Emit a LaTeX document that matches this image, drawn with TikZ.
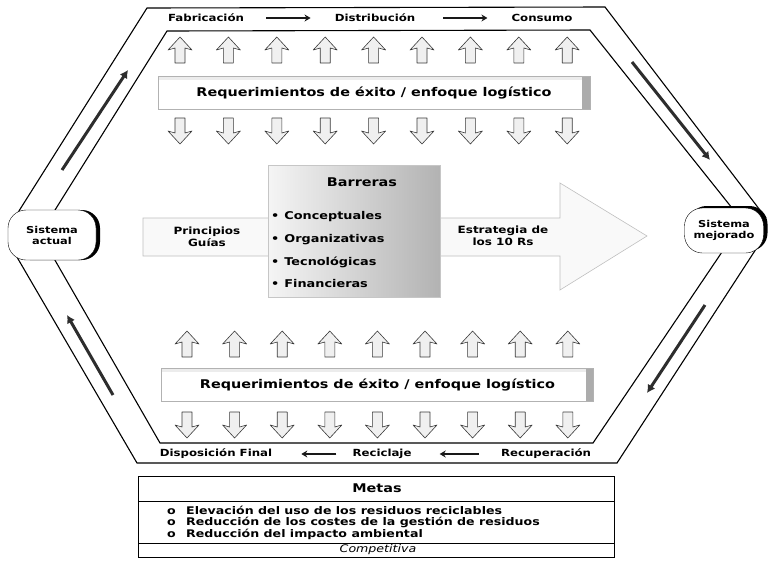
\documentclass[tikz,border=0pt]{standalone}
\usepackage{fontspec}
\setmainfont{DejaVu Sans}[FakeStretch=1.2]
\usetikzlibrary{arrows.meta,shadows}

\begin{document}
\begin{tikzpicture}[x=1pt,y=-1pt]
    \tikzstyle{lbl}=[font=\fontsize{9.8}{11}\selectfont\bfseries, inner sep=2pt]
    \tikzstyle{flowarr}=[line width=2pt, gray!20!black, -{Stealth[length=6pt,width=7pt]}, shorten <=20pt, shorten >=22pt]
    \tikzstyle{bandarr}=[line width=3pt, gray!35!black, -{Latex[length=8pt,width=9pt]}]
    \tikzstyle{hexline}=[line width=1.1pt, black]
    \tikzstyle{reqbox}=[rectangle, draw=gray!60, fill=white, minimum width=432pt, minimum height=33pt,
        font=\fontsize{12}{14}\selectfont\bfseries,
        path picture={\fill[gray!15] (path picture bounding box.north west) rectangle ([yshift=-4pt]path picture bounding box.north east);
                      \fill[gray!65] (path picture bounding box.north east) rectangle ([xshift=-8pt]path picture bounding box.south east);}]
    \tikzstyle{sysnode}=[rectangle, rounded corners=18pt, draw=black, fill=white, align=center, font=\fontsize{9.5}{11}\selectfont\bfseries]
    \tikzstyle{blockarr}=[draw=gray!45!black, fill=gray!12, line width=0.6pt, line join=round]
    \tikzstyle{bigarr}=[draw=gray!50, fill=gray!5, line width=0.6pt]
    \tikzstyle{midtxt}=[align=center, font=\fontsize{10}{11.5}\selectfont\bfseries]
    \tikzstyle{barrbox}=[rectangle, draw=gray!45, left color=gray!8, right color=gray!60, minimum width=172pt, minimum height=132pt]
    \tikzstyle{barritem}=[anchor=west, inner sep=2pt, font=\fontsize{10.7}{12}\selectfont\bfseries]
    \tikzstyle{tabline}=[line width=1pt, black]
    \tikzstyle{metaitem}=[anchor=west, inner sep=1pt, font=\fontsize{10.5}{12}\selectfont\bfseries]
    \tikzset{uparr/.pic={\draw[blockarr] (-5,0) -- (-5,-15) -- (-12,-13) -- (0,-26) -- (12,-13) -- (5,-15) -- (5,0) -- cycle;},
             dnarr/.pic={\draw[blockarr] (-5,0) -- (-5,15) -- (-12,13) -- (0,26) -- (12,13) -- (5,15) -- (5,0) -- cycle;}}

    \useasboundingbox (0,0) rectangle (774,560);

    % hexagon band
    \draw[hexline] (12,222) -- (147,8) -- (605,7) -- (766,218);
    \draw[hexline] (50,218) -- (167,31) -- (590,30) -- (740,218);
    \draw[hexline] (14,252) -- (137,463) -- (617,463) -- (758,246);
    \draw[hexline] (52,255) -- (160,443) -- (593,443) -- (722,252);

    \coordinate (tlA) at (62,170);  \coordinate (tlB) at (128,70);
    \coordinate (trA) at (632,62);  \coordinate (trB) at (710,160);
    \coordinate (brA) at (705,305); \coordinate (brB) at (647,393);
    \coordinate (blA) at (113,395); \coordinate (blB) at (67,315);
    \draw[bandarr] (tlA) -- (tlB);
    \draw[bandarr] (trA) -- (trB);
    \draw[bandarr] (brA) -- (brB);
    \draw[bandarr] (blA) -- (blB);

    \node[sysnode, minimum width=88pt, minimum height=50pt, general shadow={fill=black, shadow xshift=4pt}] (sact) at (52,235) {Sistema\\actual};
    \node[sysnode, minimum width=79pt, minimum height=45pt, general shadow={fill=black, shadow xshift=4pt, shadow yshift=2pt}] (smej) at (724,230.5) {Sistema\\mejorado};

    % flows
    \node[lbl] (fab) at (206,18) {Fabricación};
    \node[lbl] (dist) at (375,18) {Distribución};
    \node[lbl] (cons) at (542,18) {Consumo};
    \draw[flowarr] (fab) -- (dist);
    \draw[flowarr, shorten <=26pt] (dist) -- (cons);

    \node[lbl] (disp) at (216,454) {Disposición Final};
    \node[lbl] (recic) at (382,454) {Reciclaje};
    \node[lbl] (recup) at (546,454) {Recuperación};
    \draw[flowarr, shorten >=26pt] (recup) -- (recic);
    \draw[flowarr, shorten <=14pt, shorten >=27pt] (recic) -- (disp);

    \foreach \i in {0,...,8} {
        \pic at (180+48.4*\i,63) {uparr};
        \pic at (180+48.4*\i,118) {dnarr};
        \pic at (187+47.6*\i,357) {uparr};
        \pic at (187+47.6*\i,412) {dnarr};
    }

    \node[reqbox] (reqtop) at (374,92.5) {Requerimientos de éxito / enfoque logístico};
    \node[reqbox] (reqbot) at (377.5,384.5) {Requerimientos de éxito / enfoque logístico};

    % middle
    \draw[bigarr] (143,218) -- (560,218) -- (560,183) -- (647,236) -- (560,290) -- (560,256) -- (143,256) -- cycle;
    \node[midtxt] (princ) at (207,237) {Principios\\Guías};
    \node[midtxt] (estr) at (503,236) {Estrategia de\\los 10 Rs};

    \node[barrbox] (barr) at (354,231) {};
    \node[font=\fontsize{12}{14}\selectfont\bfseries] (barrt) at (362,182) {Barreras};
    \node[barritem] (bcon) at (269,217) {•\hspace{5pt}Conceptuales};
    \node[barritem] (borg) at (269,240) {•\hspace{5pt}Organizativas};
    \node[barritem] (btec) at (269,262) {•\hspace{5pt}Tecnológicas};
    \node[barritem] (bfin) at (269,284) {•\hspace{5pt}Financieras};

    % metas
    \draw[tabline] (138,476) rectangle (614,557);
    \draw[tabline] (138,501) -- (614,501);
    \draw[tabline] (138,543) -- (614,543);
    \node[font=\fontsize{12}{14}\selectfont\bfseries] (metas) at (377,488.5) {Metas};
    \node[metaitem] (mel) at (166,510) {\makebox[19pt][l]{o}Elevación del uso de los residuos reciclables};
    \node[metaitem] (mco) at (166,522) {\makebox[19pt][l]{o}Reducción de los costes de la gestión de residuos};
    \node[metaitem] (mim) at (166,534) {\makebox[19pt][l]{o}Reducción del impacto ambiental};
    \node[font=\fontsize{10.5}{12}\selectfont\itshape] (comp) at (378,550) {Competitiva};

\end{tikzpicture}
\end{document}
